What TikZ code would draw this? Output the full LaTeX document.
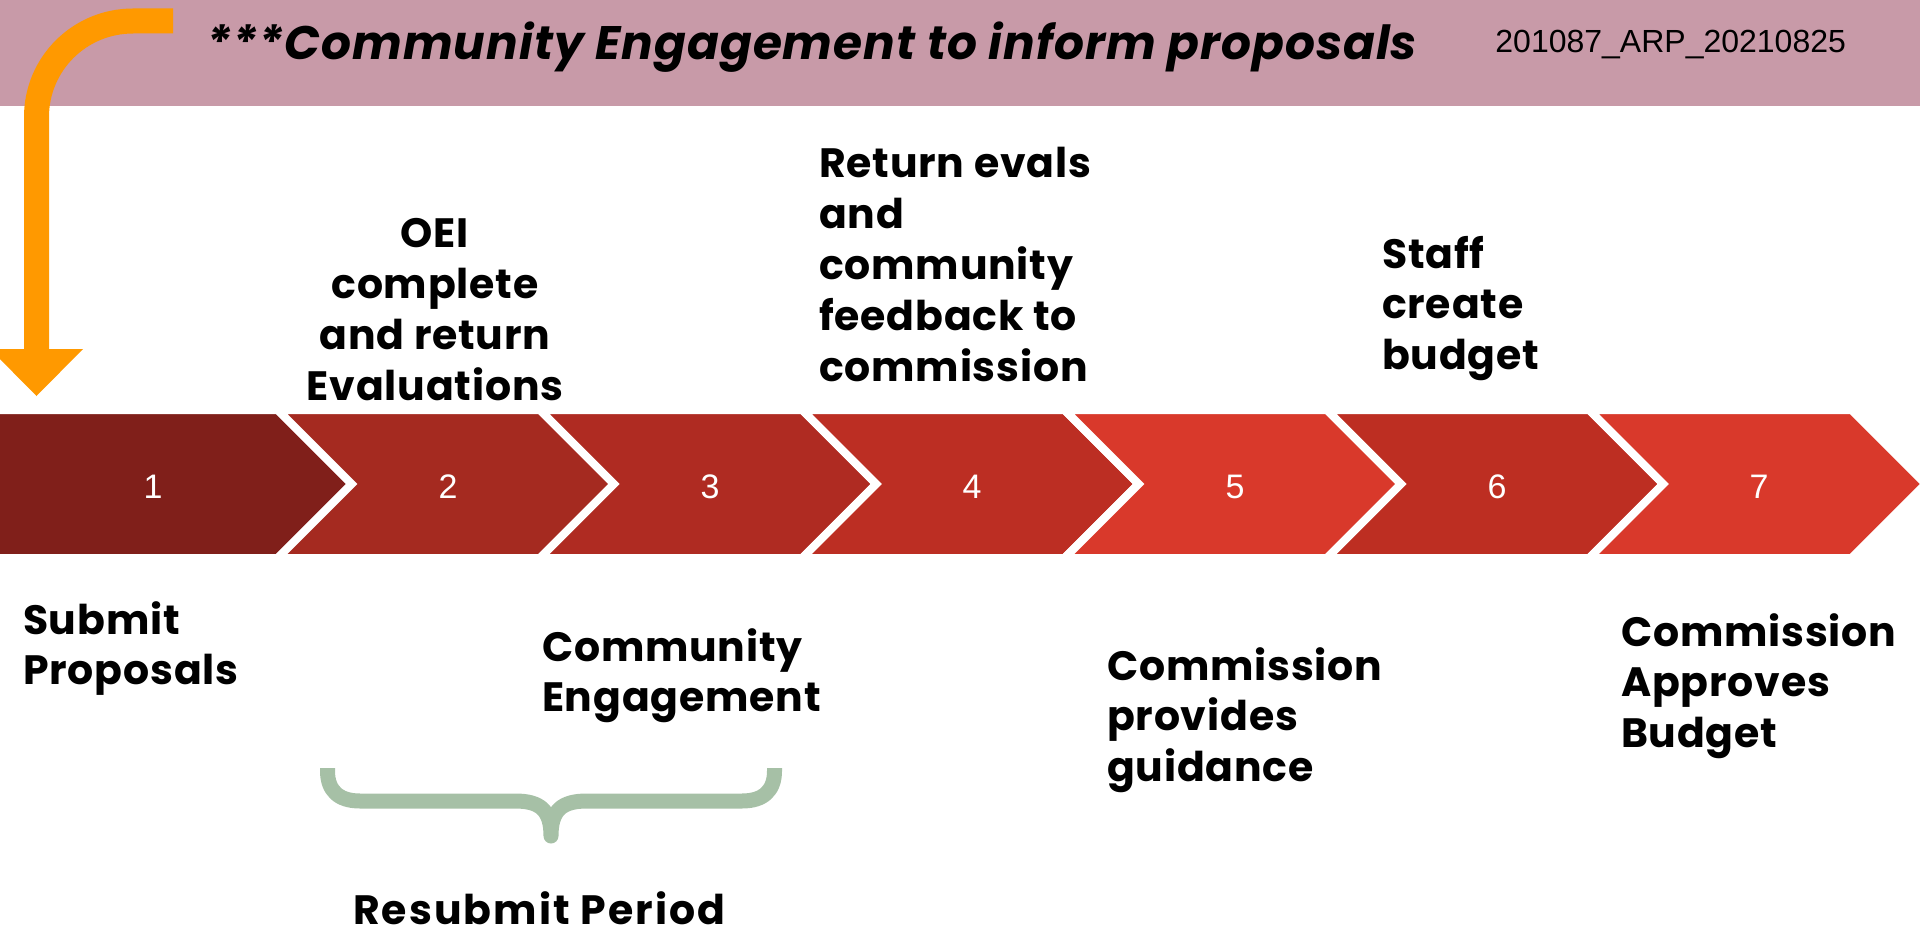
\documentclass[tikz,border=0pt]{standalone}
\usepackage{fontspec}
\setmainfont{Poppins}[LetterSpace=2]
\newfontfamily\idfont{Liberation Sans}
\newfontfamily\rpfont{Poppins}[LetterSpace=5]
\definecolor{hdr}{RGB}{200,154,168}
\definecolor{arroworange}{RGB}{255,153,0}
\definecolor{braceg}{RGB}{166,192,166}
\definecolor{chA}{RGB}{128,31,26}
\definecolor{chB}{RGB}{165,42,32}
\definecolor{chC}{RGB}{175,43,34}
\definecolor{chD}{RGB}{188,46,35}
\definecolor{chE}{RGB}{217,57,43}
\definecolor{chF}{RGB}{189,46,34}
\definecolor{chG}{RGB}{217,57,43}
\newcommand\leftlines[1]{\vtop{\halign{##\hfil\cr#1\crcr}}}
\newcommand\centerlines[1]{\vtop{\halign{\hfil##\hfil\cr#1\crcr}}}
\begin{document}
\begin{tikzpicture}[x=0.5pt,y=-0.5pt,
  body/.style={inner sep=0pt,outer sep=0pt,anchor=base west,text=black,
    font=\fontsize{20.5}{25.4}\selectfont\bfseries},
  num/.style={inner sep=0pt,anchor=base,text=white,
    font=\idfont\fontsize{17}{20}\selectfont},
  chev/.style={draw=white,line width=4pt,line join=miter}]
\useasboundingbox (0,0) rectangle (1920,936);
\clip (0,0) rectangle (1920,936);
% header band
\fill[hdr] (0,0) rectangle (1920,106);
\node[inner sep=0pt,anchor=base,font=\fontsize{23.5}{28}\selectfont\bfseries\itshape] (title) at (812,60) {***Community Engagement to inform proposals};
\node[inner sep=0pt,anchor=base west,font=\idfont\fontsize{16}{19}\selectfont] (id) at (1495,53) {201087\_ARP\_20210825};
% chevrons
\path[chev,fill=chA] (-20,410) -- (277.7,410) -- (351.7,484) -- (277.7,558) -- (-20,558) -- cycle;
\foreach \k/\col in {1/chB,2/chC,3/chD,4/chE,5/chF,6/chG}{
  \pgfmathsetmacro\b{277.7+262.3*\k}
  \pgfmathsetmacro\a{\b-262.3}
  \path[chev,fill=\col] (\a,410) -- (\b,410) -- ({\b+74},484) -- (\b,558) -- (\a,558) -- ({\a+74},484) -- cycle;
}
\node[num] (n1) at (153,498) {1};
\node[num] (n2) at (448,498) {2};
\node[num] (n3) at (710,498) {3};
\node[num] (n4) at (972,498) {4};
\node[num] (n5) at (1235,498) {5};
\node[num] (n6) at (1497,498) {6};
\node[num] (n7) at (1759,498) {7};
% orange arrow
\coordinate (arrS) at (173,21);
\coordinate (arrT) at (36.5,350);
\draw[arroworange,line width=12.5pt] (arrS) -- (133,21) .. controls (79.7,21) and (36.5,63.7) .. (36.5,117) -- (arrT);
\fill[arroworange] (-10,349) -- (83,349) -- (36.5,396) -- cycle;
% texts above
\node[body,anchor=base] (oei) at (435,248) {\centerlines{OEI\cr complete\cr and return\cr Evaluations}};
\node[body] (ret) at (819,178) {\leftlines{Return evals\cr and\cr community\cr feedback to\cr commission}};
\node[body] (staff) at (1382,268) {\leftlines{Staff\cr create\cr budget}};
% texts below
\node[body] (sub) at (23,634) {\leftlines{Submit\cr Proposals}};
\node[body] (ce) at (542,661) {\leftlines{Community\cr Engagement}};
\node[body] (cpg) at (1107,680) {\leftlines{Commission\cr provides\cr guidance}};
\node[body] (cab) at (1621,646) {\leftlines{Commission\cr Approves\cr Budget}};
% brace
\draw[braceg,line width=7.5pt,line join=round,line cap=butt]
  (327.5,768) -- (327.5,771) .. controls (327.5,790) and (338,801) .. (360,801)
  -- (515,801) .. controls (540,801) and (551,810) .. (551,836)
  .. controls (551,810) and (562,801) .. (587,801)
  -- (742,801) .. controls (764,801) and (774.5,790) .. (774.5,771) -- (774.5,768);
\node[body,font=\rpfont\fontsize{20.5}{25.4}\selectfont\bfseries] (rp) at (353,924) {Resubmit Period};
\end{tikzpicture}
\end{document}
